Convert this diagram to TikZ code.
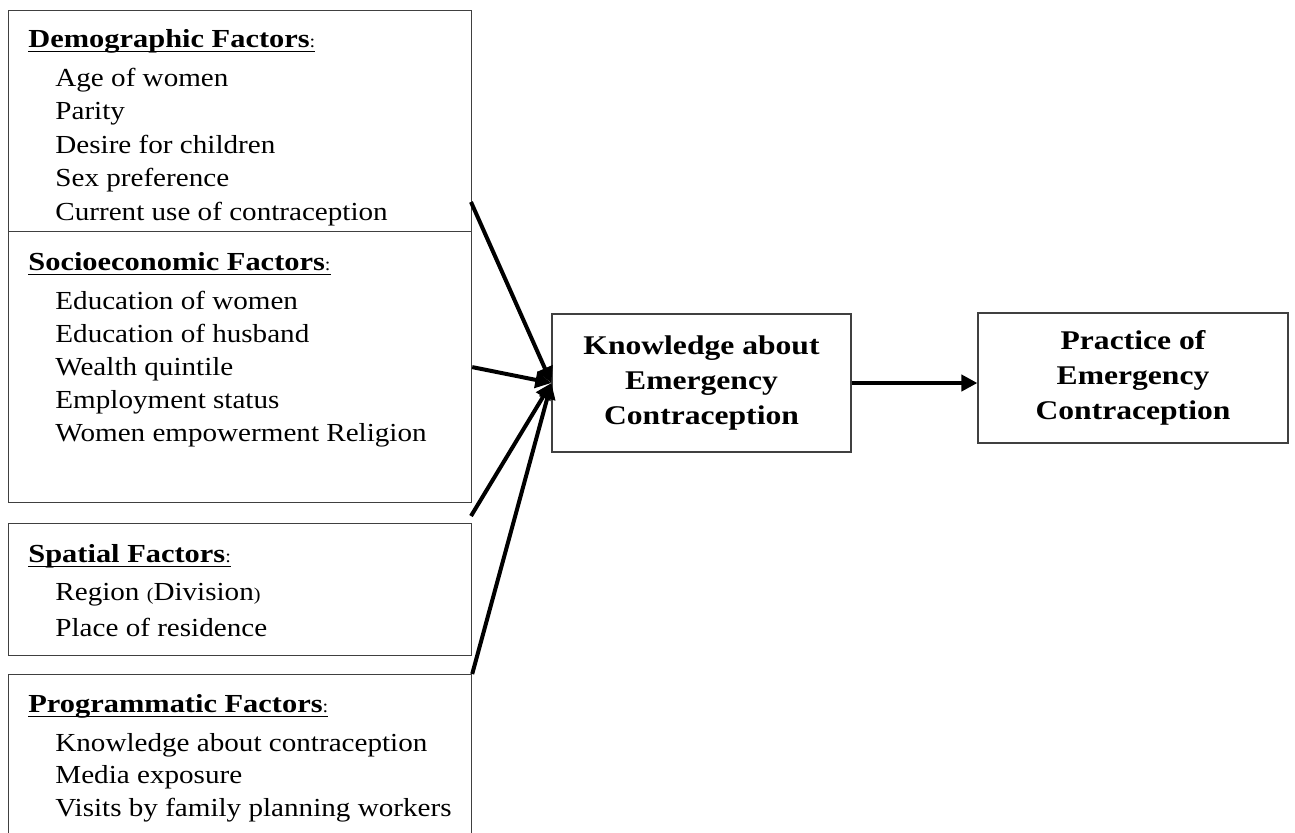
\documentclass[tikz,border=0pt]{standalone}
\usepackage{fontspec}
\setmainfont{Liberation Serif}[FakeStretch=1.12, BoldFeatures={FakeStretch=1.17}]
\usetikzlibrary{arrows.meta}

% underline that crosses the descenders, as in the original
\newcommand\ulhead[1]{\setbox0\hbox{#1}\rlap{\rule[-2.6pt]{\wd0}{0.8pt}}\box0}

\tikzset{
  factorbox/.style={draw=black!75, line width=0.6pt, anchor=north west, inner sep=0pt},
  heading/.style={anchor=base west, inner sep=0pt, font=\fontsize{13}{14}\selectfont\bfseries},
  item/.style={anchor=base west, inner sep=0pt, font=\fontsize{13}{14}\selectfont},
  outcome/.style={draw=black!75, line width=0.6pt, align=center, inner sep=0pt,
    font=\fontsize{13.5}{17.5}\selectfont\bfseries},
  link/.style={line width=2pt, -{Triangle[length=8pt,width=8pt]}}
}

\begin{document}
\begin{tikzpicture}[x=0.5pt, y=-0.5pt]
    \useasboundingbox (0,0) rectangle (1295,832);

    % Factor boxes
    \node[factorbox, minimum width=231.5pt, minimum height=110.5pt] (demo) at (8,10) {};
    \node[factorbox, minimum width=231.5pt, minimum height=135.5pt] (socio) at (8,231) {};
    \node[factorbox, minimum width=231.5pt, minimum height=66pt] (spat) at (8,523) {};
    \node[factorbox, minimum width=231.5pt, minimum height=90pt] (prog) at (8,674) {};

    % Headings
    \node[heading] (demoh) at (28,47) {\ulhead{Demographic Factors{\normalfont\fontsize{9}{10}\selectfont:}}};
    \node[heading] (socioh) at (28,270) {\ulhead{Socioeconomic Factors{\normalfont\fontsize{9}{10}\selectfont:}}};
    \node[heading] (spath) at (28,562) {\ulhead{Spatial Factors{\normalfont\fontsize{9}{10}\selectfont:}}};
    \node[heading] (progh) at (28,712) {\ulhead{Programmatic Factors{\normalfont\fontsize{9}{10}\selectfont:}}};

    % Items
    \foreach \txt [count=\i] in {Age of women, Parity, Desire for children, Sex preference, Current use of contraception}
        \node[item] (demo\i) at (55,{86+33.5*(\i-1)}) {\txt};
    \foreach \txt [count=\i] in {Education of women, Education of husband, Wealth quintile, Employment status, Women empowerment Religion}
        \node[item] (socio\i) at (55,{309+33*(\i-1)}) {\txt};
    \foreach \txt [count=\i] in {Region {\fontsize{9}{10}\selectfont(}Division{\fontsize{9}{10}\selectfont)}, Place of residence}
        \node[item] (spat\i) at (55,{600+36*(\i-1)}) {\txt};
    \foreach \txt [count=\i] in {Knowledge about contraception, Media exposure, Visits by family planning workers}
        \node[item] (prog\i) at (55,{751+32.5*(\i-1)}) {\txt};

    % Outcome boxes
    \node[outcome, minimum width=149.5pt, minimum height=69pt] (know) at (701.5,383) {Knowledge about\\Emergency\\Contraception};
    \node[outcome, minimum width=155pt, minimum height=65pt] (prac) at (1133,378) {Practice of\\Emergency\\Contraception};

    % Arrows
    \coordinate (demoout) at (471,202);
    \coordinate (spatout) at (471,516);
    \draw[link] (demoout) -- (know.west);
    \draw[link] (socio.east) -- (know.west);
    \draw[link] (spatout) -- (know.west);
    \draw[link] (prog.north east) -- (know.west);
    \draw[link] (know.east) -- (prac.west |- know.east);
\end{tikzpicture}
\end{document}
